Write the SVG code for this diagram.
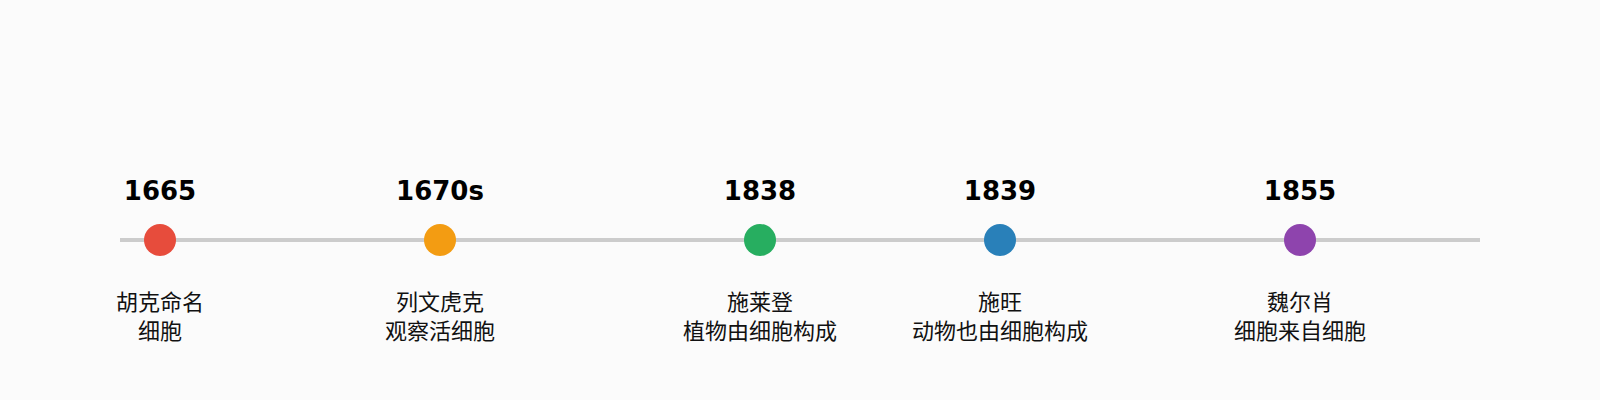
<svg xmlns="http://www.w3.org/2000/svg" width="1600" height="400" viewBox="0 0 1600 400">
<style>
.year{font-family:"DejaVu Sans","Noto Sans CJK SC",sans-serif;font-weight:bold;font-size:26px;fill:#000;text-anchor:middle}
.lbl{font-family:"Noto Sans CJK SC","DejaVu Sans",sans-serif;font-size:22px;fill:#111;text-anchor:middle}
</style>
<rect width="1600" height="400" fill="#fbfbfb"/>
<g id="connectors">
<line x1="120" y1="240" x2="1480" y2="240" stroke="#cccccc" stroke-width="4"/>
</g>
<g id="n1665">
<text class="year" x="160" y="200">1665</text>
<circle cx="160" cy="240" r="16" fill="#e74c3c"/>
<text class="lbl" x="160" y="310">胡克命名</text>
<text class="lbl" x="160" y="339">细胞</text>
</g>
<g id="n1670s">
<text class="year" x="440" y="200">1670s</text>
<circle cx="440" cy="240" r="16" fill="#f39c12"/>
<text class="lbl" x="440" y="310">列文虎克</text>
<text class="lbl" x="440" y="339">观察活细胞</text>
</g>
<g id="n1838">
<text class="year" x="760" y="200">1838</text>
<circle cx="760" cy="240" r="16" fill="#27ae60"/>
<text class="lbl" x="760" y="310">施莱登</text>
<text class="lbl" x="760" y="339">植物由细胞构成</text>
</g>
<g id="n1839">
<text class="year" x="1000" y="200">1839</text>
<circle cx="1000" cy="240" r="16" fill="#2980b9"/>
<text class="lbl" x="1000" y="310">施旺</text>
<text class="lbl" x="1000" y="339">动物也由细胞构成</text>
</g>
<g id="n1855">
<text class="year" x="1300" y="200">1855</text>
<circle cx="1300" cy="240" r="16" fill="#8e44ad"/>
<text class="lbl" x="1300" y="310">魏尔肖</text>
<text class="lbl" x="1300" y="339">细胞来自细胞</text>
</g>
</svg>
